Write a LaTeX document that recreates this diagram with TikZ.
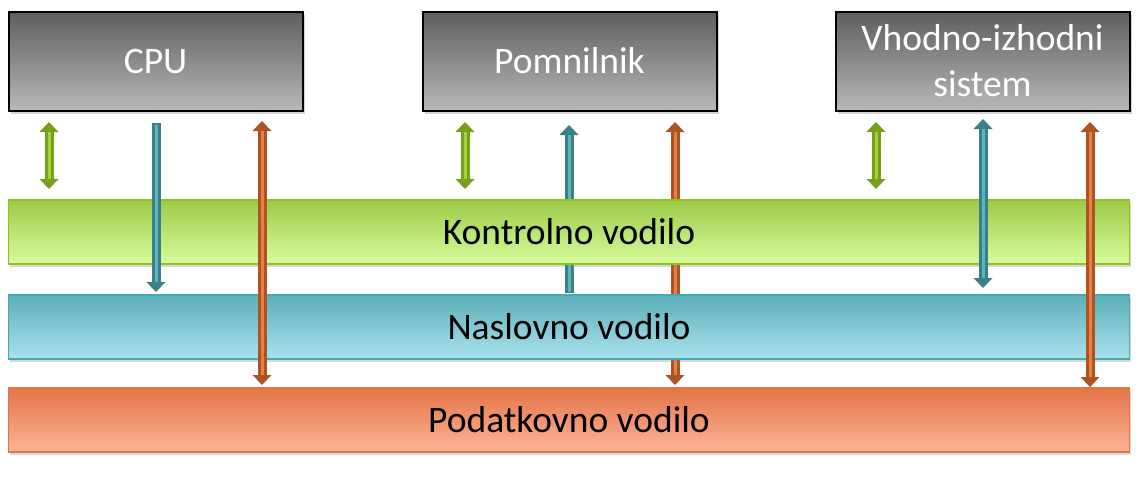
\documentclass[tikz,border=0pt]{standalone}
\usepackage{fontspec}
\setmainfont{Carlito}
\usetikzlibrary{arrows.meta,shadows}
\definecolor{unitTop}{HTML}{5E5E5E}
\definecolor{unitBot}{HTML}{B8B8B8}
\definecolor{ctrlTop}{HTML}{9CCB48}
\definecolor{ctrlBot}{HTML}{D8FC9C}
\definecolor{ctrlLine}{HTML}{8DC21F}
\definecolor{addrTop}{HTML}{5DAFB8}
\definecolor{addrBot}{HTML}{AAE2EE}
\definecolor{addrLine}{HTML}{4AA8B2}
\definecolor{dataTop}{HTML}{E4764A}
\definecolor{dataBot}{HTML}{FDB396}
\definecolor{dataLine}{HTML}{E0763E}
\definecolor{greenD}{HTML}{76A01A}
\definecolor{greenL}{HTML}{A6D03C}
\definecolor{blueD}{HTML}{3B8088}
\definecolor{blueL}{HTML}{5DB4BE}
\definecolor{orangeD}{HTML}{AD5426}
\definecolor{orangeL}{HTML}{E8803F}
\begin{document}
\begin{tikzpicture}[x=1pt,y=-1pt,
  font=\fontsize{37.5}{46}\selectfont,
  unitbox/.style={draw=black, line width=2pt, top color=unitTop, bottom color=unitBot,
    text=white, minimum width=294pt, minimum height=99pt, align=center, inner sep=0pt,
    drop shadow={shadow xshift=2pt, shadow yshift=-3pt, opacity=0.35}},
  busbox/.style={line width=1.5pt, minimum width=1121pt, minimum height=64pt, inner sep=0pt,
    text=black, drop shadow={shadow xshift=1pt, shadow yshift=-3pt, opacity=0.3}},
  fat/.style={draw=#1, line width=9pt, line cap=butt},
  stripe/.style={draw=#1, line width=3pt, line cap=butt},
  tipboth/.style={arrows={Triangle[width=19pt,length=10pt,line width=0pt]-Triangle[width=19pt,length=10pt,line width=0pt]}},
  tipend/.style={arrows={-Triangle[width=19pt,length=10pt,line width=0pt]}},
  tipstart/.style={arrows={Triangle[width=19pt,length=10pt,line width=0pt]-}}]
\useasboundingbox (0,0) rectangle (1142,477);

% arrow end points
\coordinate (g1a) at (49,122);  \coordinate (g1b) at (49,189);
\coordinate (g2a) at (465,122); \coordinate (g2b) at (465,189);
\coordinate (g3a) at (876,122); \coordinate (g3b) at (876,189);
\coordinate (b1a) at (156,123); \coordinate (b1b) at (156,292);
\coordinate (b2a) at (569,125); \coordinate (b2b) at (569,293);
\coordinate (b3a) at (983,119); \coordinate (b3b) at (983,288);
\coordinate (o1a) at (262,121); \coordinate (o1b) at (262,385);
\coordinate (o2a) at (675,122); \coordinate (o2b) at (675,385);
\coordinate (o3a) at (1090,122); \coordinate (o3b) at (1090,387);

% memory arrows run behind the buses
\draw[fat=blueD, tipstart] (b2a) -- (b2b);
\draw[stripe=blueL, shorten <=10pt, shorten >=1.5pt] (b2a) -- (b2b);
\draw[fat=orangeD, tipboth] (o2a) -- (o2b);
\draw[stripe=orangeL, shorten <=10pt, shorten >=10pt] (o2a) -- (o2b);

% units
\node[unitbox] (cpu) at (155.5,61) {CPU};
\node[unitbox] (mem) at (569.5,61) {Pomnilnik};
\node[unitbox] (io) at (982.5,61) {Vhodno-izhodni\\sistem};

% buses
\node[busbox, draw=ctrlLine, top color=ctrlTop, bottom color=ctrlBot] (ctrl) at (569,232) {Kontrolno vodilo};
\node[busbox, draw=addrLine, top color=addrTop, bottom color=addrBot] (addr) at (569,327) {Naslovno vodilo};
\node[busbox, draw=dataLine, top color=dataTop, bottom color=dataBot] (data) at (569,420) {Podatkovno vodilo};

% control arrows
\foreach \i in {1,2,3}{
  \draw[fat=greenD, tipboth] (g\i a) -- (g\i b);
  \draw[stripe=greenL, shorten <=10pt, shorten >=10pt] (g\i a) -- (g\i b);
}
% address arrows
\draw[fat=blueD, tipend] (b1a) -- (b1b);
\draw[stripe=blueL, shorten <=1.5pt, shorten >=10pt] (b1a) -- (b1b);
\draw[fat=blueD, tipboth] (b3a) -- (b3b);
\draw[stripe=blueL, shorten <=10pt, shorten >=10pt] (b3a) -- (b3b);
% data arrows
\foreach \i in {1,3}{
  \draw[fat=orangeD, tipboth] (o\i a) -- (o\i b);
  \draw[stripe=orangeL, shorten <=10pt, shorten >=10pt] (o\i a) -- (o\i b);
}
\end{tikzpicture}
\end{document}
